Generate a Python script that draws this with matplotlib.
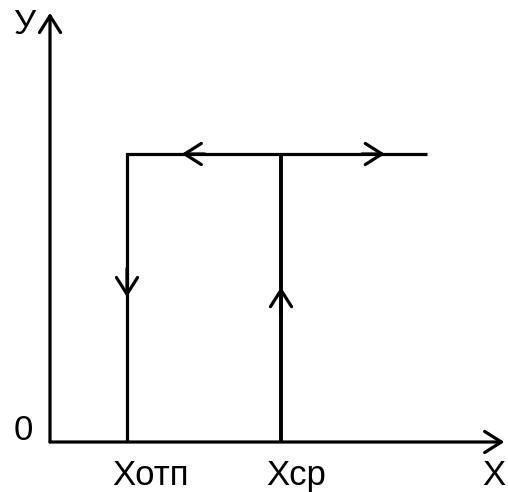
import matplotlib
matplotlib.use("Agg")
import matplotlib.pyplot as plt

# relay characteristic with hysteresis
x_otp = 1.0        # release point
x_sr = 3.0         # pick-up point
x_end = 4.9        # end of the upper branch
y_on = 1.0         # output level when on
x_axis_end = 5.9
y_axis_end = 1.49

x_labels = ["Xотп", "Xср"]
x_label_pos = [x_otp, x_sr]

# direction arrows along the branches: (tip x, tip y, dx, dy)
branch_arrows = [
    (1.71, y_on, 0.3, 0.0),    # upper branch, going left
    (4.35, y_on, -0.3, 0.0),   # upper branch, going right
    (x_otp, 0.503, 0.0, 0.1),  # release, going down
    (x_sr, 0.538, 0.0, -0.1),  # pick-up, going up
]

plt.rcParams['font.family'] = ['Liberation Sans', 'DejaVu Sans']

fig = plt.figure(figsize=(5.08, 4.92), dpi=100)
ax = fig.add_axes([0, 0, 1, 1])
ax.set_xlim(-50 / 77, 458 / 77)
ax.set_ylim(-50 / 288, 442 / 288)
ax.axis("off")

lw = 2.3
head = "->,head_length=0.6,head_width=0.38"

# axes with open arrow heads
for tip in [(x_axis_end, 0), (0, y_axis_end)]:
    ax.annotate("", xy=tip, xytext=(0, 0),
                arrowprops=dict(arrowstyle=head, lw=lw, color="black",
                                shrinkA=0, shrinkB=0, mutation_scale=20))

# characteristic
ax.plot([x_otp, x_otp, x_end], [0, y_on, y_on], color="black", lw=lw,
        solid_joinstyle="miter", solid_capstyle="butt")
ax.plot([x_sr, x_sr], [0, y_on], color="black", lw=lw + 0.5,
        solid_capstyle="butt")

for x, y, dx, dy in branch_arrows:
    ax.annotate("", xy=(x, y), xytext=(x + dx, y + dy),
                arrowprops=dict(arrowstyle=head, lw=lw, color="black",
                                shrinkA=0, shrinkB=0, mutation_scale=20))

fs = 25
for lab, x in zip(x_labels, x_label_pos):
    ax.annotate(lab, xy=(x, 0), xytext=(-15, -43), textcoords="offset pixels",
                ha="left", va="baseline", fontsize=fs)
ax.annotate("X", xy=(x_axis_end, 0), xytext=(-22, -43), textcoords="offset pixels",
            ha="left", va="baseline", fontsize=fs)
ax.annotate("0", xy=(0, 0), xytext=(-17, 2), textcoords="offset pixels",
            ha="right", va="baseline", fontsize=fs)
ax.annotate("У", xy=(0, y_axis_end), xytext=(-15, -21), textcoords="offset pixels",
            ha="right", va="baseline", fontsize=fs)

fig.savefig("out.png", dpi=100)
